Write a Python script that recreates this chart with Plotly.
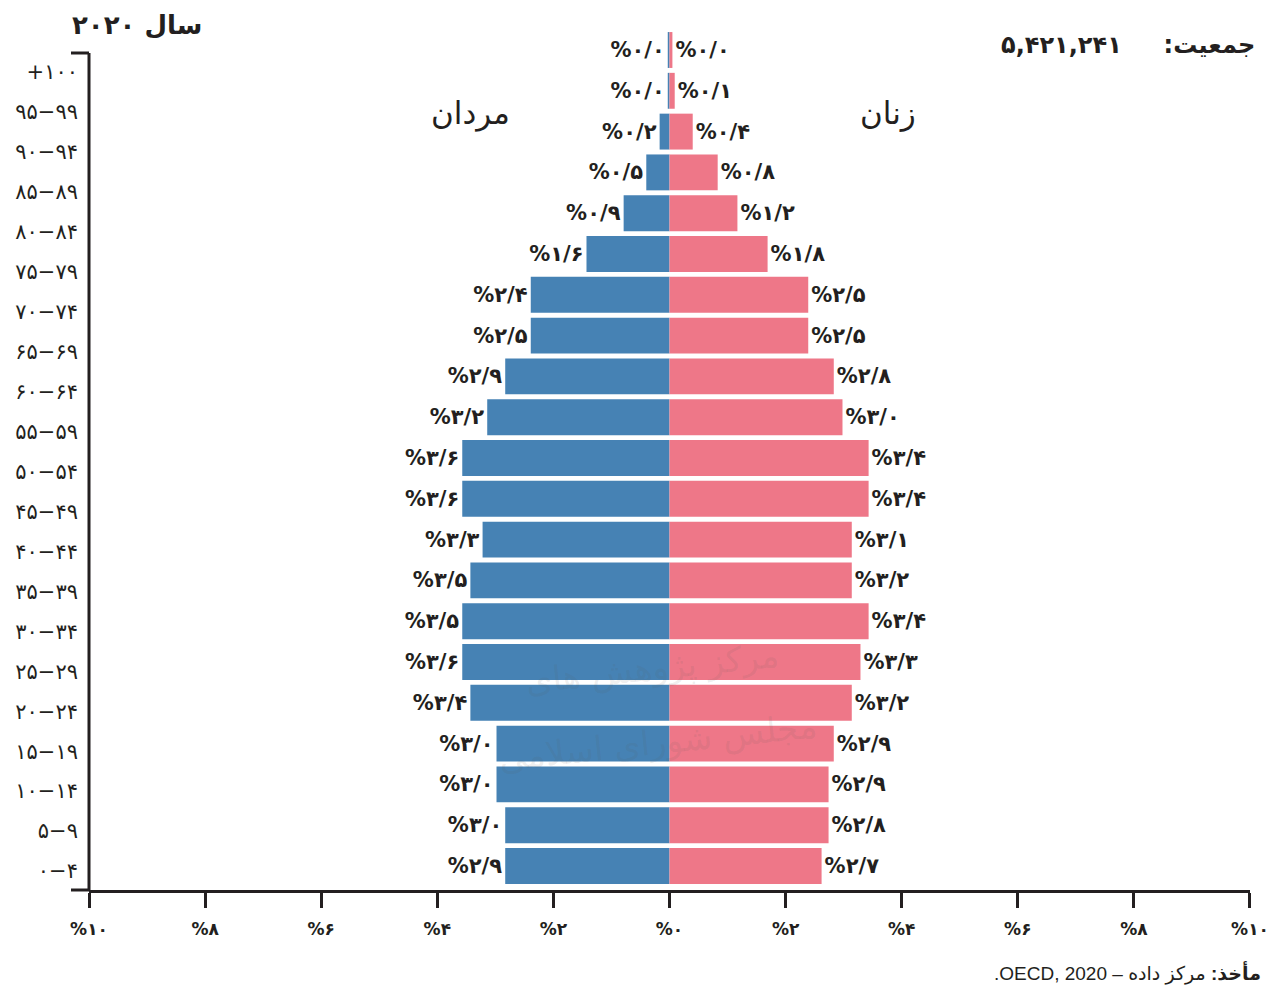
import plotly.graph_objects as go

# ---------------- data ----------------
age_groups = ["۰−۴", "۵−۹", "۱۰−۱۴", "۱۵−۱۹", "۲۰−۲۴", "۲۵−۲۹", "۳۰−۳۴", "۳۵−۳۹",
              "۴۰−۴۴", "۴۵−۴۹", "۵۰−۵۴", "۵۵−۵۹", "۶۰−۶۴", "۶۵−۶۹", "۷۰−۷۴",
              "۷۵−۷۹", "۸۰−۸۴", "۸۵−۸۹", "۹۰−۹۴", "۹۵−۹۹", "+۱۰۰"]

# bar lengths (percent of population)
men_pct = [2.83, 2.83, 2.98, 2.98, 3.43, 3.57, 3.57, 3.43, 3.22, 3.57, 3.57,
           3.14, 2.83, 2.39, 2.39, 1.43, 0.79, 0.40, 0.17, 0.03, 0.03]
women_pct = [2.62, 2.74, 2.74, 2.83, 3.14, 3.29, 3.43, 3.14, 3.14, 3.43, 3.43,
             2.98, 2.83, 2.39, 2.39, 1.69, 1.17, 0.83, 0.40, 0.09, 0.05]

# printed value labels
men_label_vals = [2.9, 3.0, 3.0, 3.0, 3.4, 3.6, 3.5, 3.5, 3.3, 3.6, 3.6,
                  3.2, 2.9, 2.5, 2.4, 1.6, 0.9, 0.5, 0.2, 0.0, 0.0]
women_label_vals = [2.7, 2.8, 2.9, 2.9, 3.2, 3.3, 3.4, 3.2, 3.1, 3.4, 3.4,
                    3.0, 2.8, 2.5, 2.5, 1.8, 1.2, 0.8, 0.4, 0.1, 0.0]

x_ticks = [-10, -8, -6, -4, -2, 0, 2, 4, 6, 8, 10]

title_text = "سال ۲۰۲۰"
population_text = "۵,۴۲۱,۲۴۱"
men_title = "مردان"
women_title = "زنان"

# ---------------- helpers ----------------
FA = str.maketrans("0123456789", "۰۱۲۳۴۵۶۷۸۹")


def fa(s):
    return str(s).translate(FA)


def pct_label(v):
    return "%" + fa(f"{v:.1f}".replace(".", "/"))


BLUE = "#4682b4"
PINK = "#ee7788"
INK = "#231f20"
FONT = "DejaVu Sans"

W, H = 1269, 986
L, R, T, B = 89, 19, 28, 96
PH = H - T - B
PW = W - L - R


def px_x(p):
    return (p - L) / PW


def px_y(p):
    return (H - B - p) / PH


pos = list(range(len(age_groups)))

fig = go.Figure()

fig.add_trace(go.Bar(
    y=pos, x=[-v for v in men_pct], orientation="h",
    marker=dict(color=BLUE, line=dict(width=0)), width=0.88,
    text=[pct_label(v) for v in men_label_vals], textposition="outside",
    textfont=dict(family=FONT, size=21, color=INK, weight="bold"),
    constraintext="none", cliponaxis=False, hoverinfo="skip", name=men_title,
))
fig.add_trace(go.Bar(
    y=pos, x=women_pct, orientation="h",
    marker=dict(color=PINK, line=dict(width=0)), width=0.88,
    text=[pct_label(v) for v in women_label_vals], textposition="outside",
    textfont=dict(family=FONT, size=21, color=INK, weight="bold"),
    constraintext="none", cliponaxis=False, hoverinfo="skip", name=women_title,
))
# invisible trace carrying the age-group label axis
fig.add_trace(go.Scatter(
    y=pos, x=[0] * len(pos), yaxis="y2", mode="markers",
    marker=dict(opacity=0), hoverinfo="skip", showlegend=False,
))

# bar axis: row centers at 866 - 40.8*i px
bar_unit = 40.8
y_lo = -(H - B - 866) / bar_unit
y_hi = (866 - T) / bar_unit
# label axis (shares the plot height): rows at 871 - 39.95*i px
lab_unit = 39.95
lab_top = 53
y2_lo = -(H - B - 871) / lab_unit
y2_hi = (871 - T) / lab_unit

fig.update_layout(
    width=W, height=H,
    margin=dict(l=L, r=R, t=T, b=B, autoexpand=False),
    paper_bgcolor="white", plot_bgcolor="white",
    barmode="overlay", showlegend=False,
    font=dict(family=FONT, color=INK),
    xaxis=dict(
        range=[-10.0001, 10.0001], tickvals=x_ticks,
        ticktext=["%" + fa(abs(v)) for v in x_ticks],
        tickfont=dict(family=FONT, size=17, color=INK, weight="bold"),
        ticks="outside", ticklen=15, tickwidth=3, tickcolor=INK,
        showline=True, linewidth=3, linecolor=INK,
        showgrid=False, zeroline=False, fixedrange=True,
        ticklabelstandoff=7, ticklabeloverflow="allow",
    ),
    yaxis=dict(
        range=[y_lo, y_hi], visible=False, showgrid=False, zeroline=False,
        fixedrange=True,
    ),
    yaxis2=dict(
        overlaying="y", anchor="x", side="left",
        range=[y2_lo, y2_hi], tickvals=pos, ticktext=age_groups,
        tickfont=dict(family=FONT, size=21, color=INK),
        ticks="", showline=False,
        showgrid=False, zeroline=False, fixedrange=True,
        ticklabelstandoff=10, ticklabeloverflow="allow",
    ),
)

# vertical axis line (from 53px down to the x axis) and left stubs
stub = px_x(71)
fig.add_shape(type="line", xref="paper", yref="paper", x0=0, x1=0,
              y0=0, y1=px_y(lab_top), line=dict(color=INK, width=3))
fig.add_shape(type="line", xref="paper", yref="paper", x0=stub, x1=0,
              y0=px_y(lab_top), y1=px_y(lab_top), line=dict(color=INK, width=3))
fig.add_shape(type="line", xref="paper", yref="paper", x0=stub, x1=0,
              y0=0, y1=0, line=dict(color=INK, width=3))

ann = []
ann.append(dict(text="<b>" + title_text + "</b>", xref="paper", yref="paper",
                x=px_x(70), y=px_y(25), xanchor="left", yanchor="middle",
                showarrow=False, font=dict(family=FONT, size=26, color=INK)))
ann.append(dict(text="<b>جمعیت:\u00a0\u00a0\u00a0\u00a0\u00a0" + population_text + "</b>",
                xref="paper", yref="paper",
                x=px_x(1257), y=px_y(45), xanchor="right", yanchor="middle",
                showarrow=False, font=dict(family=FONT, size=24, color=INK)))
ann.append(dict(text=men_title, xref="paper", yref="paper",
                x=px_x(470), y=px_y(113), xanchor="center", yanchor="middle",
                showarrow=False, font=dict(family=FONT, size=31, color=INK)))
ann.append(dict(text=women_title, xref="paper", yref="paper",
                x=px_x(888), y=px_y(113), xanchor="center", yanchor="middle",
                showarrow=False, font=dict(family=FONT, size=31, color=INK)))
ann.append(dict(text="\u202B<b>مأخذ:</b> مرکز داده – OECD, 2020.\u202C",
                xref="paper", yref="paper",
                x=px_x(1263), y=px_y(973), xanchor="right", yanchor="middle",
                showarrow=False,
                font=dict(family="Liberation Sans, DejaVu Sans", size=19, color=INK)))
# faint watermark
ann.append(dict(text="مرکز پژوهش های", xref="paper", yref="paper",
                x=px_x(652), y=px_y(668), xanchor="center", yanchor="middle",
                showarrow=False, textangle=-6,
                font=dict(family=FONT, size=34, color="rgba(90,90,90,0.11)")))
ann.append(dict(text="مجلس شورای اسلامی", xref="paper", yref="paper",
                x=px_x(658), y=px_y(742), xanchor="center", yanchor="middle",
                showarrow=False, textangle=-6,
                font=dict(family=FONT, size=34, color="rgba(90,90,90,0.11)")))
fig.update_layout(annotations=ann)

fig.write_html("out.html",
               config={"displayModeBar": False, "staticPlot": True},
               post_script="document.body.style.margin='0px';"
                           "document.body.style.overflow='hidden';")
